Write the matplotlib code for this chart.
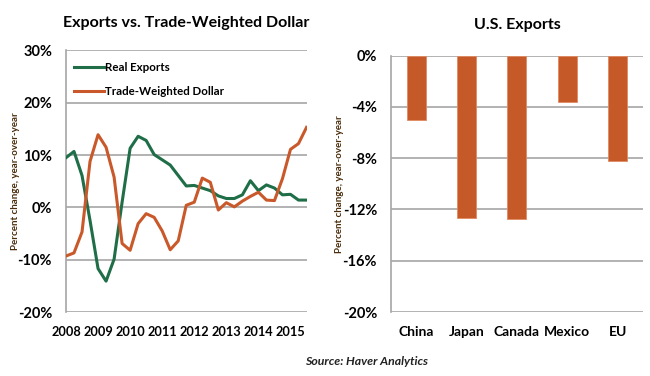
import matplotlib.pyplot as plt
from matplotlib.ticker import FuncFormatter

plt.rcParams['font.family'] = ['Lato', 'DejaVu Sans']

# quarterly data, 2008Q1 - 2015Q3 (percent change, year-over-year)
real_exports = [9.5, 10.7, 6.1, -2.5, -11.7, -14.1, -9.9, 1.0, 11.3, 13.6,
                12.8, 10.1, 9.1, 8.1, 6.1, 4.1, 4.2, 3.7, 3.2, 2.2,
                1.7, 1.7, 2.4, 5.1, 3.2, 4.3, 3.7, 2.4, 2.5, 1.4, 1.4]
trade_dollar = [-9.3, -8.7, -4.7, 8.8, 13.9, 11.5, 5.8, -6.9, -8.2, -3.1,
                -1.2, -1.9, -4.5, -8.1, -6.4, 0.4, 1.0, 5.6, 4.8, -0.5,
                0.9, 0.1, 1.2, 2.1, 2.9, 1.4, 1.3, 5.5, 11.1, 12.2, 15.3]
year_labels = ['2008', '2009', '2010', '2011', '2012', '2013', '2014', '2015']

countries = ['China', 'Japan', 'Canada', 'Mexico', 'EU']
us_exports = [-5.0, -12.65, -12.75, -3.65, -8.25]

green = '#1f6e48'
orange = '#c9592a'
grid_col = '#a6a6a6'
label_col = '#4a2c0a'

fig = plt.figure(figsize=(6.5, 3.76), dpi=100)

# left: exports vs dollar
ax1 = fig.add_axes([0.1015, 0.1702, 0.3713, 0.6955])
x = list(range(len(real_exports)))
ax1.plot(x, real_exports, color=green, lw=2.2, label='Real Exports', zorder=3)
ax1.plot(x, trade_dollar, color=orange, lw=2.2, label='Trade-Weighted Dollar', zorder=3)
ax1.set_xlim(0, 30.1)
ax1.set_ylim(-20, 30)
ax1.set_yticks([-20, -10, 0, 10, 20, 30])
ax1.yaxis.set_major_formatter(FuncFormatter(lambda v, p: '%d%%' % v))
ax1.set_xticks(range(0, 4 * len(year_labels), 4))
ax1.set_xticklabels(year_labels)
ax1.grid(axis='y', color=grid_col, lw=1.2)
ax1.set_axisbelow(True)
for s in ['top', 'right', 'bottom']:
    ax1.spines[s].set_visible(False)
ax1.spines['left'].set_color(grid_col)
ax1.spines['left'].set_linewidth(1.2)
ax1.tick_params(length=0)
ax1.tick_params(axis='x', labelsize=9.2, pad=10)
ax1.tick_params(axis='y', labelsize=10.5, pad=10)
for t in ax1.get_xticklabels() + ax1.get_yticklabels():
    t.set_fontweight('bold')
ax1.set_ylabel('Percent change, year-over-year', fontsize=7, fontweight='bold',
               color=label_col)
ax1.yaxis.set_label_coords(-0.19, 0.5)
ax1.set_title('Exports vs. Trade-Weighted Dollar', fontsize=11.5, fontweight='bold',
              pad=17)
leg = ax1.legend(loc='upper left', frameon=False, fontsize=8.3, handlelength=2.6,
                 handletextpad=0.05, labelspacing=1.05, borderaxespad=0.3,
                 bbox_to_anchor=(0.0, 0.985))
for t in leg.get_texts():
    t.set_fontweight('bold')

# right: U.S. exports by destination
ax2 = fig.add_axes([0.6015, 0.1702, 0.3875, 0.6817])
ax2.bar(countries, us_exports, width=0.38, color='#c55a28', edgecolor='#e08a60',
        lw=0.6, zorder=3)
ax2.set_xlim(-0.5, 4.5)
ax2.set_ylim(-20, 0)
ax2.set_yticks([-20, -16, -12, -8, -4, 0])
ax2.yaxis.set_major_formatter(FuncFormatter(lambda v, p: '%d%%' % v))
ax2.grid(axis='y', color=grid_col, lw=1.2)
ax2.set_axisbelow(True)
for s in ['top', 'right', 'bottom']:
    ax2.spines[s].set_visible(False)
ax2.spines['left'].set_color(grid_col)
ax2.spines['left'].set_linewidth(1.2)
ax2.tick_params(length=0)
ax2.tick_params(axis='x', labelsize=10, pad=10)
ax2.tick_params(axis='y', labelsize=10.5, pad=10)
for t in ax2.get_xticklabels() + ax2.get_yticklabels():
    t.set_fontweight('bold')
ax2.set_ylabel('Percent change, year-over-year', fontsize=7, fontweight='bold',
               color=label_col)
ax2.yaxis.set_label_coords(-0.185, 0.5)
ax2.set_title('U.S. Exports', fontsize=11.5, fontweight='bold', pad=19)

fig.text(0.4692, 0.028, 'Source: Haver Analytics', fontsize=8.8, fontweight='bold',
         style='italic', color='#222222')

fig.savefig('out.png', dpi=100)
